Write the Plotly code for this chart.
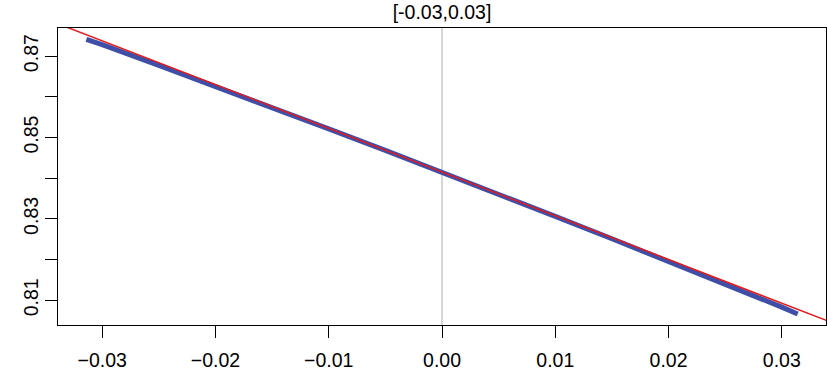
import plotly.graph_objects as go

# Data
blue_x = [-0.0314, -0.03, -0.025, -0.02, -0.015, -0.01, -0.005, 0.0,
          0.005, 0.01, 0.015, 0.02, 0.025, 0.03, 0.0314]
blue_y = [0.8741, 0.8728, 0.8677, 0.8626, 0.8574, 0.8521, 0.8468, 0.8415,
          0.8361, 0.8306, 0.8251, 0.8196, 0.8140, 0.8083, 0.8066]
red_x = [-0.04, 0.04]
red_y = [0.8845, 0.7985]
vline_x = [0.0, 0.0]
vline_y = [0.79, 0.89]

x_tickvals = [-0.03, -0.02, -0.01, 0.0, 0.01, 0.02, 0.03]
x_ticktext = ["\u22120.03", "\u22120.02", "\u22120.01", "0.00", "0.01", "0.02", "0.03"]
y_tickvals = [0.81, 0.82, 0.83, 0.84, 0.85, 0.86, 0.87]
y_ticktext = ["0.81", "", "0.83", "", "0.85", "", "0.87"]
title_text = "[-0.03,0.03]"

FONT = "Liberation Sans, Arial, Helvetica, sans-serif"

fig = go.Figure()
fig.add_trace(go.Scatter(x=vline_x, y=vline_y, mode="lines",
                         line=dict(color="#c8c8c8", width=1.5), hoverinfo="skip"))
fig.add_trace(go.Scatter(x=blue_x, y=blue_y, mode="lines",
                         line=dict(color="#3F4FA8", width=5)))
fig.add_trace(go.Scatter(x=red_x, y=red_y, mode="lines",
                         line=dict(color="#E41A1C", width=1.5)))

fig.update_layout(
    width=827, height=371,
    margin=dict(l=58, r=1, t=28, b=46, autoexpand=False),
    paper_bgcolor="white", plot_bgcolor="white",
    showlegend=False,
    font=dict(family=FONT, size=19.5, color="black"),
    title=dict(text=title_text, x=0.5, xref="paper", xanchor="center",
               y=1 - 12.5 / 371, yref="container", yanchor="middle",
               font=dict(family=FONT, size=19.5, color="black")),
)
fig.update_xaxes(
    range=[-0.0339, 0.0339], tickvals=x_tickvals, ticktext=x_ticktext,
    showgrid=False, zeroline=False, showline=True, linecolor="black", linewidth=1.2,
    mirror=True, ticks="outside", ticklen=12, tickwidth=1.2, tickcolor="black",
    ticklabelstandoff=5, automargin=False,
)
fig.update_yaxes(
    range=[0.8039, 0.8769], tickvals=y_tickvals, ticktext=y_ticktext,
    showgrid=False, zeroline=False, showline=True, linecolor="black", linewidth=1.2,
    mirror=True, ticks="outside", ticklen=12, tickwidth=1.2, tickcolor="black",
    tickangle=-90, ticklabelstandoff=-1, automargin=False,
)

fig.write_html(
    "out.html",
    config={"displayModeBar": False},
    post_script="document.body.style.margin='0';document.body.style.overflow='hidden';",
)
